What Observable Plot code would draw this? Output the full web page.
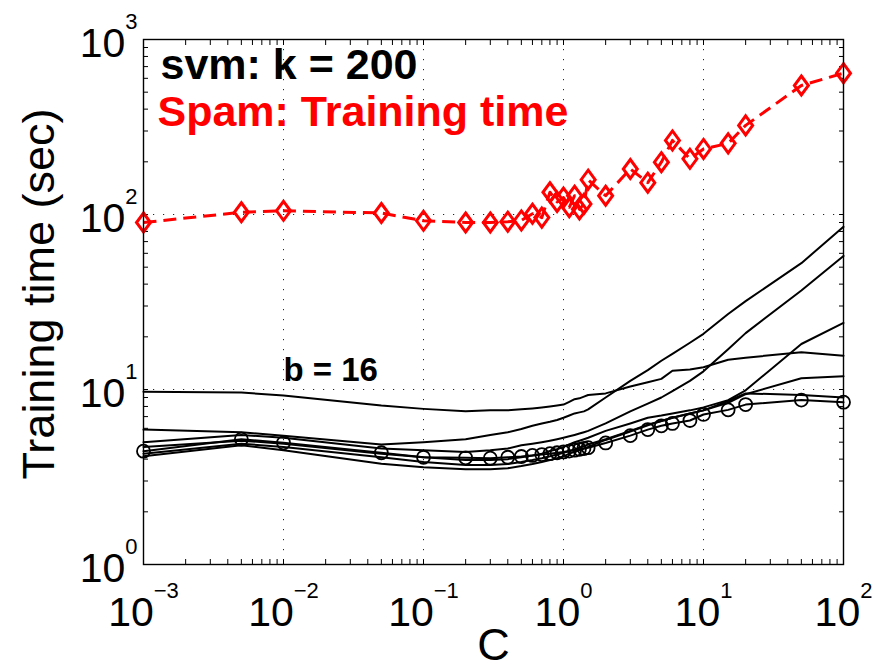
<!DOCTYPE html>
<html>
<head>
<meta charset="utf-8">
<script src="https://cdn.jsdelivr.net/npm/d3@7"></script>
<script src="https://cdn.jsdelivr.net/npm/@observablehq/plot@0.6"></script>
<style>
  html, body { margin: 0; padding: 0; background: #fff; }
  #chart { width: 876px; height: 669px; }
</style>
</head>
<body>
<div id="chart"></div>
<script>
// Regularization parameter values (x)
const Cvals = [0.001, 0.005, 0.01, 0.05, 0.1, 0.2, 0.3, 0.4, 0.5, 0.6, 0.7, 0.8, 0.9, 1, 1.1, 1.2, 1.3, 1.4, 1.5, 2, 3, 4, 5, 6, 8, 10, 15, 20, 50, 100];

// Spam: training time of original data (red diamonds)
const spamTime = [90, 103, 105, 102, 92, 90, 90, 91, 92.5, 101, 96, 134, 118, 125, 110, 128, 107, 115, 158, 128, 182, 152, 199, 265, 208, 237, 255, 323, 546, 642];

// Hashed data training times (black lines)
const lineB16 = [9.7, 9.6, 9.25, 8.1, 7.75, 7.5, 7.6, 7.6, 7.7, 7.8, 7.9, 8.0, 8.1, 8.2, 8.5, 8.8, 8.9, 9.1, 9.3, 9.5, 10.4, 11.0, 11.5, 12.8, 13.0, 13.4, 14.8, 15.2, 16.3, 15.6];
const line2 = [5.9, 5.7, 5.45, 4.85, 5.0, 5.2, 5.5, 5.7, 5.95, 6.2, 6.4, 6.55, 6.7, 6.9, 7.1, 7.3, 7.4, 7.5, 7.7, 9.0, 11.2, 12.9, 14.6, 16.0, 18.5, 20.8, 27, 32, 52.7, 85];
const line3 = [5.0, 5.5, 5.3, 4.6, 4.5, 4.4, 4.5, 4.6, 4.8, 4.9, 5.0, 5.1, 5.2, 5.3, 5.4, 5.5, 5.6, 5.7, 5.8, 6.4, 7.5, 8.3, 9.0, 9.8, 11.2, 12.7, 17, 21, 36.8, 58];
const line4 = [4.7, 5.1, 4.9, 4.3, 4.1, 3.95, 3.95, 4.0, 4.1, 4.2, 4.3, 4.45, 4.55, 4.7, 4.85, 5.0, 5.1, 5.2, 5.3, 5.8, 6.4, 6.9, 7.1, 7.3, 7.6, 7.9, 8.7, 9.9, 18.2, 24];
const line5 = [4.3, 4.9, 4.7, 4.1, 3.85, 3.7, 3.7, 3.75, 3.85, 3.95, 4.05, 4.15, 4.25, 4.35, 4.45, 4.55, 4.65, 4.75, 4.85, 5.2, 5.8, 6.3, 6.6, 6.9, 7.3, 7.6, 8.4, 9.4, 11.6, 11.9];
const line6 = [4.15, 4.8, 4.5, 3.76, 3.6, 3.5, 3.5, 3.55, 3.65, 3.75, 3.85, 3.95, 4.05, 4.15, 4.3, 4.4, 4.5, 4.6, 4.7, 5.15, 5.75, 6.25, 6.6, 6.9, 7.3, 7.6, 8.6, 9.5, 9.3, 9.0];
const lineCircle = [4.44, 5.2, 4.96, 4.35, 4.1, 4.07, 4.05, 4.1, 4.14, 4.2, 4.25, 4.3, 4.35, 4.4, 4.45, 4.5, 4.55, 4.6, 4.65, 4.95, 5.45, 5.9, 6.2, 6.4, 6.65, 7.2, 7.65, 8.2, 8.7, 8.46];

// Tick values
const xMajor = [1e-3, 1e-2, 1e-1, 1e0, 1e1, 1e2];
const yMajor = [1e0, 1e1, 1e2, 1e3];

// Text
const titleText = ["svm: k = 200"];
const subtitleText = ["Spam: Training time"];
const bText = ["b = 16"];
const xLabel = ["C"];
const yLabel = ["Training time (sec)"];

// ---- build tables ----
const plainSeries = [lineB16, line2, line3, line4, line5, line6];
const plainRows = plainSeries.flatMap((vals, s) => Cvals.map((c, i) => ({C: c, t: vals[i], s})));
const circleRows = Cvals.map((c, i) => ({C: c, t: lineCircle[i]}));
const spamRows = Cvals.map((c, i) => ({C: c, t: spamTime[i]}));

function minorTicks(lo, hi) {
  const out = [];
  for (let e = lo; e < hi; e++) for (let m = 1; m <= 9; m++) out.push(m * Math.pow(10, e));
  out.push(Math.pow(10, hi));
  return out;
}
const xAll = minorTicks(-3, 2);
const yAll = minorTicks(0, 3);

const fmt = d => {
  const e = Math.round(Math.log10(d));
  return "10^" + (e < 0 ? "\u2212" + (-e) : String(e));
};

// MATLAB-like diamond marker (taller than wide)
const diamondMarker = {
  draw(ctx) {
    ctx.moveTo(0, -9.5);
    ctx.lineTo(7, 0);
    ctx.lineTo(0, 9.5);
    ctx.lineTo(-7, 0);
    ctx.closePath();
  }
};

const chart = Plot.plot({
  width: 876,
  height: 669,
  marginLeft: 143,
  marginRight: 33,
  marginTop: 39,
  marginBottom: 105,
  x: {type: "log", domain: [1e-3, 1e2]},
  y: {type: "log", domain: [1, 1e3]},
  style: {fontFamily: "'Liberation Sans', Arial, Helvetica, sans-serif", background: "white", color: "black"},
  marks: [
    Plot.gridX(xMajor.slice(1, -1), {stroke: "black", strokeOpacity: 0.85, strokeWidth: 1, strokeDasharray: "1.2,8.8"}),
    Plot.gridY(yMajor.slice(1, -1), {stroke: "black", strokeOpacity: 0.85, strokeWidth: 1, strokeDasharray: "1.2,8.8"}),
    // inward ticks on all four sides
    Plot.axisX({anchor: "bottom", ticks: xAll, tickSize: -5, tickFormat: () => "", label: null, strokeWidth: 1}),
    Plot.axisX({anchor: "top", ticks: xAll, tickSize: -5, tickFormat: () => "", label: null, strokeWidth: 1}),
    Plot.axisY({anchor: "left", ticks: yAll, tickSize: -5, tickFormat: () => "", label: null, strokeWidth: 1}),
    Plot.axisY({anchor: "right", ticks: yAll, tickSize: -5, tickFormat: () => "", label: null, strokeWidth: 1}),
    // tick labels
    Plot.axisX({anchor: "bottom", ticks: xMajor, tickSize: 0, tickPadding: 32, tickFormat: fmt, fontSize: 41, label: null}),
    Plot.axisY({anchor: "left", ticks: yMajor, tickSize: 0, tickPadding: 6, tickFormat: fmt, fontSize: 41, label: null, dy: 4}),
    // black lines
    Plot.line(plainRows, {x: "C", y: "t", z: "s", stroke: "black", strokeWidth: 2}),
    Plot.line(circleRows, {x: "C", y: "t", stroke: "black", strokeWidth: 2}),
    Plot.dot(circleRows, {x: "C", y: "t", r: 6.5, symbol: "circle", stroke: "black", fill: "none", strokeWidth: 1.8}),
    // red dashed line with diamonds
    Plot.line(spamRows, {x: "C", y: "t", stroke: "#ff0000", strokeWidth: 3, strokeDasharray: "13,7", strokeLinecap: "butt"}),
    Plot.dot(spamRows, {x: "C", y: "t", symbol: diamondMarker, stroke: "#ff0000", fill: "none", strokeWidth: 3}),
    // annotations
    Plot.text(titleText, {text: d => d, frameAnchor: "top-left", dx: 17, dy: 8.5, lineAnchor: "top", textAnchor: "start", fontSize: 43, fontWeight: "bold", fill: "black"}),
    Plot.text(subtitleText, {text: d => d, frameAnchor: "top-left", dx: 14, dy: 55.5, lineAnchor: "top", textAnchor: "start", fontSize: 43, fontWeight: "bold", fill: "#ff0000"}),
    Plot.text(bText, {text: d => d, x: () => 0.01, y: () => 12.9, lineAnchor: "middle", textAnchor: "start", fontSize: 33, fontWeight: "bold", fill: "black"}),
    // axis titles
    Plot.text(xLabel, {text: d => d, frameAnchor: "bottom", dy: 81, lineAnchor: "middle", textAnchor: "middle", fontSize: 45, fill: "black"}),
    Plot.text(yLabel, {text: d => d, frameAnchor: "left", dx: -104, dy: -8, rotate: -90, lineAnchor: "middle", textAnchor: "middle", fontSize: 45, fill: "black"}),
    Plot.frame({stroke: "black", strokeWidth: 1.4})
  ]
});

// Turn "10^e" tick labels into base + superscript exponent
d3.select(chart).selectAll("text").each(function () {
  const m = /^10\^(.+)$/.exec(this.textContent);
  if (!m) return;
  const t = d3.select(this);
  t.text(null);
  t.append("tspan").text("10");
  t.append("tspan").attr("dy", -28).attr("font-size", 22).text(m[1]);
});

document.getElementById("chart").appendChild(chart);
</script>
</body>
</html>
